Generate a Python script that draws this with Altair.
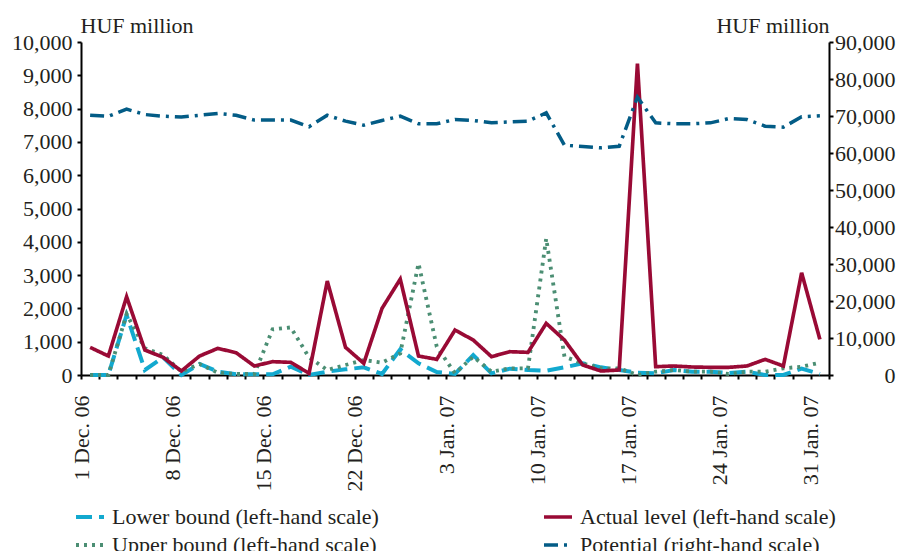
import json
import altair as alt
import pandas as pd

dates = ["1 Dec. 06", "4 Dec. 06", "5 Dec. 06", "6 Dec. 06", "7 Dec. 06", "8 Dec. 06",
         "11 Dec. 06", "12 Dec. 06", "13 Dec. 06", "14 Dec. 06", "15 Dec. 06",
         "18 Dec. 06", "19 Dec. 06", "20 Dec. 06", "21 Dec. 06", "22 Dec. 06",
         "27 Dec. 06", "28 Dec. 06", "29 Dec. 06", "2 Jan. 07", "3 Jan. 07",
         "4 Jan. 07", "5 Jan. 07", "8 Jan. 07", "9 Jan. 07", "10 Jan. 07",
         "11 Jan. 07", "12 Jan. 07", "15 Jan. 07", "16 Jan. 07", "17 Jan. 07",
         "18 Jan. 07", "19 Jan. 07", "22 Jan. 07", "23 Jan. 07", "24 Jan. 07",
         "25 Jan. 07", "26 Jan. 07", "29 Jan. 07", "30 Jan. 07", "31 Jan. 07"]
tick_labels = ["1 Dec. 06", "8 Dec. 06", "15 Dec. 06", "22 Dec. 06", "3 Jan. 07",
               "10 Jan. 07", "17 Jan. 07", "24 Jan. 07", "31 Jan. 07"]

lower = [0, 0, 1800, 150, 530, 0, 330, 100, 20, 20, 20, 250, 0, 100, 170, 230, 30, 770, 350, 90,
         30, 600, 50, 190, 150, 130, 230, 350, 230, 150, 70, 50, 150, 100, 100, 60, 100, 0, 0, 190, 30]
upper = [0, 0, 1830, 800, 600, 100, 330, 70, 30, 30, 1370, 1430, 530, 150, 300, 450, 370, 650, 3350, 850,
         50, 550, 100, 200, 200, 4100, 550, 350, 200, 200, 0, 100, 150, 100, 100, 30, 100, 100, 200, 250, 370]
actual = [830, 570, 2350, 750, 530, 120, 570, 800, 670, 270, 400, 380, 50, 2820, 830, 350, 2000, 2880, 570, 470,
          1350, 1050, 550, 700, 680, 1550, 1050, 300, 120, 150, 9350, 250, 270, 240, 230, 230, 270, 470, 270, 3070, 1070]
potential = [70200, 69900, 71850, 70400, 69950, 69700, 70200, 70700, 70200, 68900, 68900, 68900, 67100, 70200,
             68600, 67500, 68800, 69950, 67900, 67900, 69050, 68800, 68150, 68400, 68600, 70850, 62100, 61750,
             61400, 61800, 75100, 68150, 67900, 67900, 68150, 69300, 69050, 67250, 66980, 69800, 70050]

# legend fills column by column: Lower, Upper | Actual, Potential
series_order = ["Lower bound (left-hand scale)", "Upper bound (left-hand scale)",
                "Actual level (left-hand scale)", "Potential (right-hand scale)"]
colors = ["#12A9CF", "#4B8E73", "#990A35", "#035C86"]
dashes = [[16, 7], [3, 5], [1, 0], [14, 6, 3, 6]]
widths = [4, 3.5, 3, 3.5]

left_ticks = list(range(0, 10001, 1000))
right_ticks = list(range(0, 90001, 10000))

rows = []
for name, vals in [(series_order[0], lower), (series_order[1], upper), (series_order[2], actual)]:
    for d, v in zip(dates, vals):
        rows.append({"date": d, "value": v, "series": name})
left_df = pd.DataFrame(rows)
right_df = pd.DataFrame({"date": dates, "potential": potential, "series": series_order[3]})

FONT = "Liberation Serif"
TXT = "#231F20"

label_expr = ("indexof(" + json.dumps(tick_labels) + ", datum.value) >= 0 ? datum.value : ''")

x_enc = alt.X(
    "date:O", sort=dates,
    scale=alt.Scale(type="band", paddingInner=0, paddingOuter=0),
    axis=alt.Axis(title=None, tickBand="extent", labelAngle=-90, labelAlign="right",
                  labelBaseline="middle", labelOffset=-9, labelPadding=16,
                  labelExpr=label_expr, labelOverlap=False),
)

legend = alt.Legend(orient="none", legendX=-7, legendY=459, columns=2, columnPadding=157,
                    rowPadding=1, symbolType="stroke", symbolSize=784, symbolStrokeWidth=3.5,
                    labelFont=FONT, labelFontSize=22, labelColor=TXT, labelOffset=6,
                    labelLimit=0, title=None, padding=0)

color_enc = alt.Color("series:N", scale=alt.Scale(domain=series_order, range=colors), legend=legend)
dash_enc = alt.StrokeDash("series:N", scale=alt.Scale(domain=series_order, range=dashes), legend=legend)
width_enc = alt.StrokeWidth("series:N", scale=alt.Scale(domain=series_order, range=widths), legend=None)

left = alt.Chart(left_df).mark_line().encode(
    x=x_enc,
    y=alt.Y("value:Q", scale=alt.Scale(domain=[0, 10000], nice=False),
            axis=alt.Axis(values=left_ticks, format=",.0f", title="HUF million", titleAngle=0,
                          titleX=-1, titleY=-10, titleAlign="left", titleBaseline="alphabetic",
                          labelPadding=5)),
    color=color_enc, strokeDash=dash_enc, strokeWidth=width_enc,
    detail="series:N",
)

right = alt.Chart(right_df).mark_line().encode(
    x=x_enc,
    y=alt.Y("potential:Q", scale=alt.Scale(domain=[0, 90000], nice=False),
            axis=alt.Axis(orient="right", values=right_ticks, format=",.0f", title="HUF million",
                          titleAngle=0, titleX=0, titleY=-10, titleAlign="right",
                          titleBaseline="alphabetic", labelAlign="right", labelPadding=62)),
    color=color_enc, strokeDash=dash_enc, strokeWidth=width_enc,
)

chart = alt.layer(left, right).resolve_scale(y="independent").properties(
    width=748, height=333,
    autosize=alt.AutoSizeParams(type="none"),
    padding={"left": 73, "top": 34, "right": 67, "bottom": 176},
).configure_view(stroke=None).configure_axis(
    domainColor="#000000", domainWidth=2, tickColor="#000000", tickWidth=2, tickSize=4,
    labelFont=FONT, labelFontSize=22, labelColor=TXT, grid=False,
    titleFont=FONT, titleFontSize=22, titleFontWeight="normal", titleColor=TXT,
)

chart.save("out.html", embed_options={"renderer": "svg", "actions": False})
